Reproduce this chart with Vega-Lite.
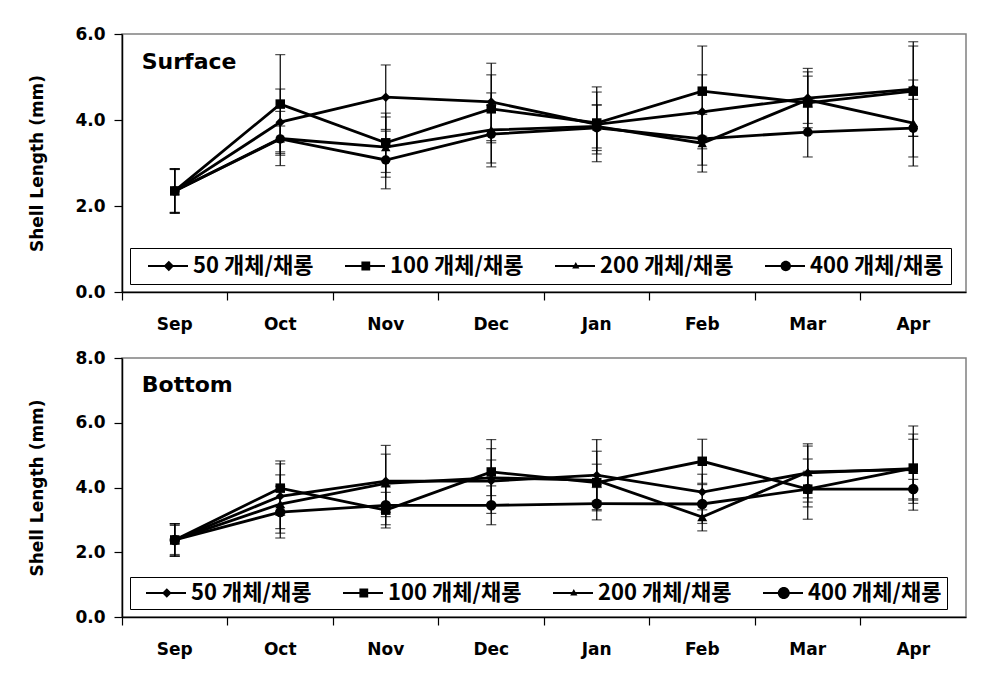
{
  "$schema": "https://vega.github.io/schema/vega-lite/v6.json",
  "background": "white",
  "padding": {"left": 28, "top": 24, "right": 5, "bottom": 5},
  "config": {
    "font": "DejaVu Sans",
    "view": {"stroke": "#808080", "strokeWidth": 1.5},
    "axis": {"domainColor": "black", "domainWidth": 1.5, "tickColor": "black", "tickWidth": 1.2, "tickSize": 8, "labelColor": "black", "labelFont": "DejaVu Sans", "labelFontSize": 17, "labelFontWeight": "bold", "grid": false, "titleColor": "black"},
    "axisX": {"labelAngle": 0, "bandPosition": 0, "labelPadding": 16},
    "axisY": {"labelPadding": 9, "titleFont": "DejaVu Sans", "titleFontSize": 17, "titleFontWeight": "bold", "titlePadding": 28}
  },
  "datasets": {
    "surface": [
      {"month": "Sep", "series": "50 개체/채롱", "mean": 2.35, "sd": 0.52},
      {"month": "Oct", "series": "50 개체/채롱", "mean": 3.95, "sd": 0.77},
      {"month": "Nov", "series": "50 개체/채롱", "mean": 4.53, "sd": 0.75},
      {"month": "Dec", "series": "50 개체/채롱", "mean": 4.42, "sd": 0.9},
      {"month": "Jan", "series": "50 개체/채롱", "mean": 3.9, "sd": 0.87},
      {"month": "Feb", "series": "50 개체/채롱", "mean": 4.19, "sd": 0.86},
      {"month": "Mar", "series": "50 개체/채롱", "mean": 4.51, "sd": 0.69},
      {"month": "Apr", "series": "50 개체/채롱", "mean": 4.72, "sd": 1.1},
      {"month": "Sep", "series": "100 개체/채롱", "mean": 2.35, "sd": 0.52},
      {"month": "Oct", "series": "100 개체/채롱", "mean": 4.37, "sd": 1.15},
      {"month": "Nov", "series": "100 개체/채롱", "mean": 3.47, "sd": 0.69},
      {"month": "Dec", "series": "100 개체/채롱", "mean": 4.26, "sd": 0.79},
      {"month": "Jan", "series": "100 개체/채롱", "mean": 3.93, "sd": 0.72},
      {"month": "Feb", "series": "100 개체/채롱", "mean": 4.67, "sd": 1.05},
      {"month": "Mar", "series": "100 개체/채롱", "mean": 4.4, "sd": 0.72},
      {"month": "Apr", "series": "100 개체/채롱", "mean": 4.67, "sd": 1.05},
      {"month": "Sep", "series": "200 개체/채롱", "mean": 2.35, "sd": 0.5},
      {"month": "Oct", "series": "200 개체/채롱", "mean": 3.57, "sd": 0.63},
      {"month": "Nov", "series": "200 개체/채롱", "mean": 3.37, "sd": 0.7},
      {"month": "Dec", "series": "200 개체/채롱", "mean": 3.77, "sd": 0.86},
      {"month": "Jan", "series": "200 개체/채롱", "mean": 3.85, "sd": 0.5},
      {"month": "Feb", "series": "200 개체/채롱", "mean": 3.46, "sd": 0.67},
      {"month": "Mar", "series": "200 개체/채롱", "mean": 4.47, "sd": 0.55},
      {"month": "Apr", "series": "200 개체/채롱", "mean": 3.93, "sd": 1.0},
      {"month": "Sep", "series": "400 개체/채롱", "mean": 2.35, "sd": 0.5},
      {"month": "Oct", "series": "400 개체/채롱", "mean": 3.56, "sd": 0.3},
      {"month": "Nov", "series": "400 개체/채롱", "mean": 3.07, "sd": 0.67},
      {"month": "Dec", "series": "400 개체/채롱", "mean": 3.67, "sd": 0.67},
      {"month": "Jan", "series": "400 개체/채롱", "mean": 3.82, "sd": 0.53},
      {"month": "Feb", "series": "400 개체/채롱", "mean": 3.56, "sd": 0.61},
      {"month": "Mar", "series": "400 개체/채롱", "mean": 3.72, "sd": 0.58},
      {"month": "Apr", "series": "400 개체/채롱", "mean": 3.81, "sd": 0.67}
    ],
    "bottom": [
      {"month": "Sep", "series": "50 개체/채롱", "mean": 2.38, "sd": 0.5},
      {"month": "Oct", "series": "50 개체/채롱", "mean": 3.73, "sd": 1.0},
      {"month": "Nov", "series": "50 개체/채롱", "mean": 4.2, "sd": 1.1},
      {"month": "Dec", "series": "50 개체/채롱", "mean": 4.2, "sd": 1.0},
      {"month": "Jan", "series": "50 개체/채롱", "mean": 4.38, "sd": 1.1},
      {"month": "Feb", "series": "50 개체/채롱", "mean": 3.86, "sd": 0.55},
      {"month": "Mar", "series": "50 개체/채롱", "mean": 4.45, "sd": 0.9},
      {"month": "Apr", "series": "50 개체/채롱", "mean": 4.58, "sd": 1.07},
      {"month": "Sep", "series": "100 개체/채롱", "mean": 2.38, "sd": 0.5},
      {"month": "Oct", "series": "100 개체/채롱", "mean": 3.98, "sd": 0.84},
      {"month": "Nov", "series": "100 개체/채롱", "mean": 3.3, "sd": 0.55},
      {"month": "Dec", "series": "100 개체/채롱", "mean": 4.48, "sd": 1.0},
      {"month": "Jan", "series": "100 개체/채롱", "mean": 4.15, "sd": 0.57},
      {"month": "Feb", "series": "100 개체/채롱", "mean": 4.81, "sd": 0.68},
      {"month": "Mar", "series": "100 개체/채롱", "mean": 3.95, "sd": 0.55},
      {"month": "Apr", "series": "100 개체/채롱", "mean": 4.6, "sd": 1.3},
      {"month": "Sep", "series": "200 개체/채롱", "mean": 2.38, "sd": 0.5},
      {"month": "Oct", "series": "200 개체/채롱", "mean": 3.49, "sd": 0.9},
      {"month": "Nov", "series": "200 개체/채롱", "mean": 4.13, "sd": 0.9},
      {"month": "Dec", "series": "200 개체/채롱", "mean": 4.3, "sd": 0.55},
      {"month": "Jan", "series": "200 개체/채롱", "mean": 4.22, "sd": 0.9},
      {"month": "Feb", "series": "200 개체/채롱", "mean": 3.09, "sd": 0.43},
      {"month": "Mar", "series": "200 개체/채롱", "mean": 4.48, "sd": 0.8},
      {"month": "Apr", "series": "200 개체/채롱", "mean": 4.55, "sd": 0.94},
      {"month": "Sep", "series": "400 개체/채롱", "mean": 2.38, "sd": 0.45},
      {"month": "Oct", "series": "400 개체/채롱", "mean": 3.24, "sd": 0.8},
      {"month": "Nov", "series": "400 개체/채롱", "mean": 3.45, "sd": 0.6},
      {"month": "Dec", "series": "400 개체/채롱", "mean": 3.45, "sd": 0.6},
      {"month": "Jan", "series": "400 개체/채롱", "mean": 3.5, "sd": 0.5},
      {"month": "Feb", "series": "400 개체/채롱", "mean": 3.49, "sd": 0.6},
      {"month": "Mar", "series": "400 개체/채롱", "mean": 3.95, "sd": 0.93},
      {"month": "Apr", "series": "400 개체/채롱", "mean": 3.95, "sd": 0.3}
    ]
  },
  "spacing": 15,
  "resolve": {"scale": {"shape": "independent", "size": "independent"}, "legend": {"shape": "independent"}},
  "vconcat": [
    {
      "width": 844,
      "height": 258,
      "data": {"name": "surface"},
      "resolve": {"scale": {"shape": "independent", "size": "independent"}, "legend": {"shape": "independent"}},
      "layer": [
        {
          "mark": {"type": "errorbar", "color": "black", "thickness": 1.2, "ticks": {"size": 10, "thickness": 1.2, "color": "black"}},
          "encoding": {
            "x": {"field": "month", "type": "nominal", "sort": null, "scale": {"type": "band", "domain": ["Sep", "Oct", "Nov", "Dec", "Jan", "Feb", "Mar", "Apr"], "paddingInner": 0, "paddingOuter": 0}, "axis": {"title": null}},
            "y": {"field": "mean", "type": "quantitative", "scale": {"domain": [0, 6], "nice": false}, "axis": {"values": [0, 2, 4, 6], "format": ".1f", "title": "Shell Length (mm)"}},
            "yError": {"field": "sd"}
          }
        },
        {
          "mark": {"type": "line", "color": "black", "strokeWidth": 2.8},
          "encoding": {
            "x": {"field": "month", "type": "nominal", "sort": null, "axis": {"title": null}},
            "y": {"field": "mean", "type": "quantitative", "axis": {"values": [0, 2, 4, 6], "format": ".1f", "title": "Shell Length (mm)"}},
            "detail": {"field": "series"}
          }
        },
        {
          "mark": {"type": "point", "filled": true, "color": "black", "opacity": 1},
          "encoding": {
            "x": {"field": "month", "type": "nominal", "sort": null, "axis": {"title": null}},
            "y": {"field": "mean", "type": "quantitative", "axis": {"values": [0, 2, 4, 6], "format": ".1f", "title": "Shell Length (mm)"}},
            "shape": {"field": "series", "scale": {"domain": ["50 개체/채롱", "100 개체/채롱", "200 개체/채롱", "400 개체/채롱"], "range": ["diamond", "square", "triangle-up", "circle"]}, "legend": null},
            "size": {"field": "series", "scale": {"domain": ["50 개체/채롱", "100 개체/채롱", "200 개체/채롱", "400 개체/채롱"], "range": [90, 90, 40, 100]}, "legend": null}
          }
        },
        {
          "transform": [{"filter": "false"}],
          "mark": {"type": "point", "filled": true, "color": "black", "opacity": 1},
          "encoding": {
            "x": {"field": "month", "type": "nominal", "sort": null, "axis": {"title": null}},
            "y": {"field": "mean", "type": "quantitative", "axis": {"values": [0, 2, 4, 6], "format": ".1f", "title": "Shell Length (mm)"}},
            "shape": {
              "field": "series",
              "scale": {"domain": ["50 개체/채롱", "100 개체/채롱", "200 개체/채롱", "400 개체/채롱"], "range": ["M0,-0.14H5V0.14H0ZM2.6,-0.65L3.25,0L2.6,0.65L1.95,0Z", "M0,-0.14H5V0.14H0ZM2.05,-0.55H3.15V0.55H2.05Z", "M0,-0.14H5V0.14H0ZM2.6,-0.5L3.05,0.3H2.15Z", "M0,-0.14H5V0.14H0ZM1.95,0A0.65,0.65,0,1,1,3.25,0A0.65,0.65,0,1,1,1.95,0Z"]},
              "legend": {"orient": "bottom-left", "direction": "horizontal", "title": null, "offset": 8, "strokeColor": "black", "fillColor": "white", "padding": 7, "labelFont": "Noto Sans CJK KR", "labelFontSize": 22, "labelFontWeight": "bold", "labelColor": "black", "symbolSize": 256, "symbolFillColor": "black", "symbolOpacity": 1, "columnPadding": 20, "labelOffset": 34}
            }
          }
        },
        {
          "data": {"values": [{"label": "Surface"}]},
          "mark": {"type": "text", "align": "left", "baseline": "middle", "fontSize": 22, "fontWeight": "bold", "font": "DejaVu Sans", "color": "black", "dx": -33},
          "encoding": {
            "x": {"datum": "Sep", "type": "nominal"},
            "y": {"datum": 5.35, "type": "quantitative"},
            "text": {"field": "label"}
          }
        }
      ]
    },
    {
      "width": 844,
      "height": 259,
      "data": {"name": "bottom"},
      "resolve": {"scale": {"shape": "independent", "size": "independent"}, "legend": {"shape": "independent"}},
      "layer": [
        {
          "mark": {"type": "errorbar", "color": "black", "thickness": 1.2, "ticks": {"size": 10, "thickness": 1.2, "color": "black"}},
          "encoding": {
            "x": {"field": "month", "type": "nominal", "sort": null, "scale": {"type": "band", "domain": ["Sep", "Oct", "Nov", "Dec", "Jan", "Feb", "Mar", "Apr"], "paddingInner": 0, "paddingOuter": 0}, "axis": {"title": null}},
            "y": {"field": "mean", "type": "quantitative", "scale": {"domain": [0, 8], "nice": false}, "axis": {"values": [0, 2, 4, 6, 8], "format": ".1f", "title": "Shell Length (mm)"}},
            "yError": {"field": "sd"}
          }
        },
        {
          "mark": {"type": "line", "color": "black", "strokeWidth": 2.8},
          "encoding": {
            "x": {"field": "month", "type": "nominal", "sort": null, "axis": {"title": null}},
            "y": {"field": "mean", "type": "quantitative", "axis": {"values": [0, 2, 4, 6, 8], "format": ".1f", "title": "Shell Length (mm)"}},
            "detail": {"field": "series"}
          }
        },
        {
          "mark": {"type": "point", "filled": true, "color": "black", "opacity": 1},
          "encoding": {
            "x": {"field": "month", "type": "nominal", "sort": null, "axis": {"title": null}},
            "y": {"field": "mean", "type": "quantitative", "axis": {"values": [0, 2, 4, 6, 8], "format": ".1f", "title": "Shell Length (mm)"}},
            "shape": {"field": "series", "scale": {"domain": ["50 개체/채롱", "100 개체/채롱", "200 개체/채롱", "400 개체/채롱"], "range": ["diamond", "square", "triangle-up", "circle"]}, "legend": null},
            "size": {"field": "series", "scale": {"domain": ["50 개체/채롱", "100 개체/채롱", "200 개체/채롱", "400 개체/채롱"], "range": [80, 110, 40, 150]}, "legend": null}
          }
        },
        {
          "transform": [{"filter": "false"}],
          "mark": {"type": "point", "filled": true, "color": "black", "opacity": 1},
          "encoding": {
            "x": {"field": "month", "type": "nominal", "sort": null, "axis": {"title": null}},
            "y": {"field": "mean", "type": "quantitative", "axis": {"values": [0, 2, 4, 6, 8], "format": ".1f", "title": "Shell Length (mm)"}},
            "shape": {
              "field": "series",
              "scale": {"domain": ["50 개체/채롱", "100 개체/채롱", "200 개체/채롱", "400 개체/채롱"], "range": ["M0,-0.14H5V0.14H0ZM2.6,-0.6L3.2,0L2.6,0.6L2.0,0Z", "M0,-0.14H5V0.14H0ZM2.05,-0.55H3.15V0.55H2.05Z", "M0,-0.14H5V0.14H0ZM2.6,-0.5L3.05,0.3H2.15Z", "M0,-0.14H5V0.14H0ZM1.85,0A0.75,0.75,0,1,1,3.35,0A0.75,0.75,0,1,1,1.85,0Z"]},
              "legend": {"orient": "bottom-left", "direction": "horizontal", "title": null, "offset": 8, "strokeColor": "black", "fillColor": "white", "padding": 5, "labelFont": "Noto Sans CJK KR", "labelFontSize": 22, "labelFontWeight": "bold", "labelColor": "black", "symbolSize": 256, "symbolFillColor": "black", "symbolOpacity": 1, "columnPadding": 20, "labelOffset": 34}
            }
          }
        },
        {
          "data": {"values": [{"label": "Bottom"}]},
          "mark": {"type": "text", "align": "left", "baseline": "middle", "fontSize": 22, "fontWeight": "bold", "font": "DejaVu Sans", "color": "black", "dx": -33},
          "encoding": {
            "x": {"datum": "Sep", "type": "nominal"},
            "y": {"datum": 7.16, "type": "quantitative"},
            "text": {"field": "label"}
          }
        }
      ]
    }
  ]
}
